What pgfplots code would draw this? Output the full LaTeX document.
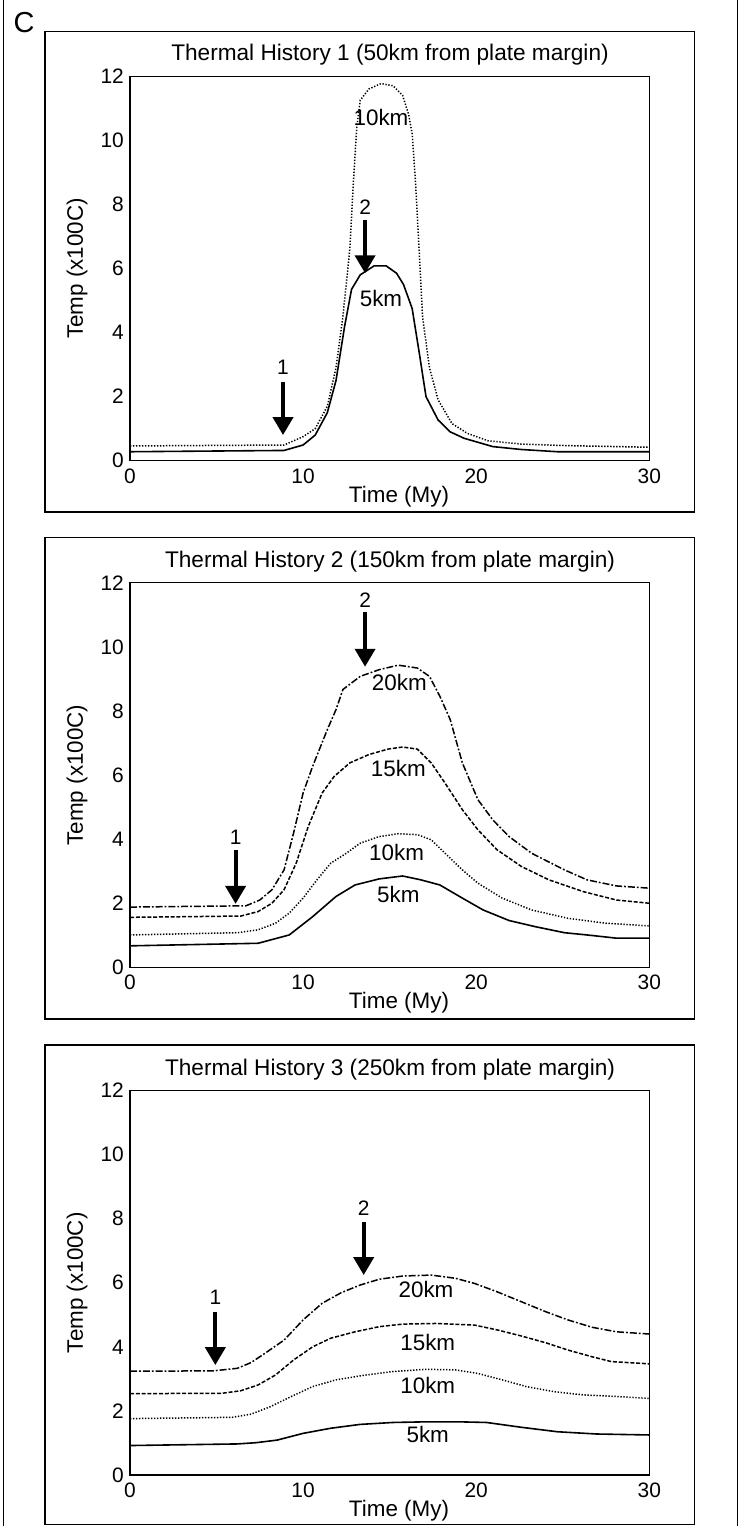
\documentclass[border=0pt]{standalone}
\usepackage{fontspec}
\setmainfont{Liberation Sans}
\usepackage{pgfplots}
\pgfplotsset{compat=1.18}
\usetikzlibrary{arrows.meta}
\newcommand\fs[1]{\fontsize{#1}{#1}\selectfont}
\pgfplotsset{
  th/.style={
    scale only axis, width=519.3bp, height=384.5bp,
    anchor=south west,
    xmin=0, xmax=30, ymin=0, ymax=12,
    xtick={0,10,20,30}, ytick={0,2,4,6,8,10,12},
    major tick length=0pt, tick style={draw=none},
    axis line style={line width=1.1bp},
    /pgf/number format/assume math mode=true,
    tick label style={font=\fs{21}},
    xticklabel style={anchor=base, inner sep=0pt, yshift=-22.3bp},
    yticklabel style={anchor=east, inner sep=0pt, xshift=-6bp},
    xlabel={Time (My)}, ylabel={Temp (x100C)},
    label style={font=\fs{22.5}},
    xlabel style={at={(axis description cs:0.518,-0.1074)}, anchor=base},
    ylabel style={at={(axis description cs:-0.1021,0.5)}, anchor=center},
    clip=false,
  },
  s5/.style={black, line width=1.6bp, solid},
  s10/.style={black, line width=1.5bp, dash pattern=on 1.3bp off 1.7bp},
  s15/.style={black, line width=1.5bp, dash pattern=on 4bp off 1.8bp},
  s20/.style={black, line width=1.5bp, dash pattern=on 7bp off 2bp on 1.8bp off 2bp},
}
\tikzset{
  arr/.style={line width=4bp, -{Triangle[length=18bp,width=20bp]}},
  lab/.style={font=\fs{22.5}, inner sep=0pt},
  num/.style={font=\fs{21}, inner sep=0pt},
}
\begin{document}
\begin{tikzpicture}
\path[use as bounding box] (0,0) rectangle (743bp,-1526bp);
% outer frame
\draw[line width=1bp] (3.3bp,0) -- (3.3bp,-1526bp);
\draw[line width=1bp] (737bp,0) -- (737bp,-1526bp);
\node[font=\fs{29}, inner sep=0pt] at (24bp,-23bp) {C};
% panel boxes
\draw[line width=1.1bp] (45bp,-31.7bp) rectangle (694.3bp,-512bp);
\draw[line width=1.1bp] (45bp,-537.7bp) rectangle (694.3bp,-1019bp);
\draw[line width=1.1bp] (45bp,-1045bp) rectangle (694.3bp,-1524.5bp);
% titles
\node[font=\fs{22.7}, anchor=base, inner sep=0pt] at (390bp,-60bp) {Thermal History 1 (50km from plate margin)};
\node[font=\fs{22.7}, anchor=base, inner sep=0pt] at (390bp,-567bp) {Thermal History 2 (150km from plate margin)};
\node[font=\fs{22.7}, anchor=base, inner sep=0pt] at (390bp,-1075bp) {Thermal History 3 (250km from plate margin)};

% ---------- Panel 1 ----------
\begin{axis}[th, at={(130bp,-460.7bp)}]
\addplot[s10] coordinates {(0,0.46) (8.9,0.49) (10.0,0.75) (10.7,1.0) (11.4,1.7) (11.9,2.9) (12.3,4.5) (12.7,6.6) (12.9,8.65) (13.1,10.4) (13.3,11.25) (13.8,11.6) (14.5,11.77) (15.2,11.7) (15.75,11.4) (16.1,10.8) (16.3,10.2) (16.5,8.65) (16.7,6.6) (16.9,4.5) (17.3,2.9) (17.8,1.9) (18.6,1.16) (19.5,0.85) (20.7,0.62) (22.6,0.52) (25.3,0.47) (30,0.42)};
\addplot[s5] coordinates {(0,0.28) (8.9,0.32) (10.0,0.49) (10.7,0.8) (11.4,1.5) (11.9,2.5) (12.4,4.2) (12.8,5.35) (13.3,5.8) (14.1,6.08) (14.8,6.08) (15.4,5.85) (15.8,5.5) (16.3,4.75) (16.7,3.4) (17.1,2.0) (17.8,1.27) (18.5,0.9) (19.3,0.7) (20.96,0.44) (22.6,0.35) (24.7,0.28) (30,0.28)};
\node[lab] at (axis cs:14.5,10.7) {10km};
\node[lab] at (axis cs:14.5,5.06) {5km};
\draw[arr] (axis cs:8.84,2.45) -- (axis cs:8.84,0.80);
\node[num] at (axis cs:8.84,2.9) {1};
\draw[arr] (axis cs:13.58,7.5) -- (axis cs:13.58,5.85);
\node[num] at (axis cs:13.58,7.92) {2};
\end{axis}

% ---------- Panel 2 ----------
\begin{axis}[th, at={(130bp,-967.3bp)}]
\addplot[s20] coordinates {(0,1.88) (6.7,1.92) (7.5,2.1) (8.2,2.42) (8.9,3.04) (9.45,4.19) (10.0,5.44) (10.55,6.27) (11.4,7.42) (11.9,8.04) (12.3,8.67) (13.3,9.08) (14.4,9.29) (15.5,9.43) (16.6,9.34) (17.3,9.08) (17.9,8.46) (18.5,7.73) (19.2,6.38) (20.1,5.23) (20.96,4.6) (21.9,4.08) (23.2,3.56) (25.1,3.04) (26.4,2.73) (28.1,2.54) (30,2.47)};
\addplot[s15] coordinates {(0,1.56) (6.4,1.6) (7.4,1.74) (8.2,2.0) (8.9,2.42) (9.6,3.25) (10.3,4.4) (11.1,5.44) (11.8,5.96) (12.7,6.38) (13.8,6.64) (14.9,6.81) (15.75,6.875) (16.6,6.81) (17.4,6.38) (18.2,5.75) (19.2,4.92) (20.1,4.29) (21.2,3.67) (22.6,3.15) (24.2,2.73) (26.2,2.36) (28.1,2.1) (30,2.0)};
\addplot[s10] coordinates {(0,1.01) (6.2,1.08) (7.4,1.17) (8.4,1.375) (9.2,1.69) (10.0,2.16) (10.8,2.73) (11.6,3.25) (12.5,3.56) (13.3,3.875) (14.4,4.08) (15.5,4.17) (16.6,4.14) (17.4,3.98) (18.2,3.56) (19.2,3.04) (20.1,2.625) (21.5,2.16) (23.2,1.79) (25.3,1.53) (27.5,1.375) (30,1.29)};
\addplot[s5] coordinates {(0,0.67) (7.4,0.75) (9.2,1.01) (10.55,1.58) (11.9,2.21) (13.0,2.57) (14.4,2.76) (15.75,2.85) (16.8,2.73) (17.9,2.57) (19.2,2.16) (20.4,1.79) (21.9,1.46) (23.4,1.27) (25.1,1.08) (26.4,1.01) (28.1,0.91) (30,0.91)};
\node[lab] at (axis cs:15.56,8.9) {20km};
\node[lab] at (axis cs:15.5,6.22) {15km};
\node[lab] at (axis cs:15.4,3.58) {10km};
\node[lab] at (axis cs:15.5,2.26) {5km};
\draw[arr] (axis cs:6.1,3.67) -- (axis cs:6.1,1.98);
\node[num] at (axis cs:6.1,4.06) {1};
\draw[arr] (axis cs:13.58,11.08) -- (axis cs:13.58,9.38);
\node[num] at (axis cs:13.58,11.46) {2};
\end{axis}

% ---------- Panel 3 ----------
\begin{axis}[th, at={(130bp,-1475bp)}]
\addplot[s20] coordinates {(0,3.24) (4.8,3.25) (6.2,3.33) (7.0,3.51) (7.8,3.8) (8.9,4.21) (10.0,4.84) (11.1,5.36) (12.2,5.69) (13.3,5.93) (14.4,6.11) (15.75,6.21) (17.4,6.24) (18.8,6.14) (19.9,5.98) (21.2,5.72) (22.6,5.41) (24.0,5.1) (25.3,4.84) (26.7,4.61) (28.1,4.47) (30,4.4)};
\addplot[s15] coordinates {(0,2.54) (5.3,2.55) (6.4,2.63) (7.4,2.81) (8.4,3.12) (9.45,3.59) (10.55,4.0) (11.6,4.27) (13.0,4.47) (14.4,4.63) (15.75,4.71) (17.7,4.73) (19.9,4.68) (21.2,4.53) (22.6,4.34) (24.0,4.13) (25.3,3.9) (26.7,3.69) (27.8,3.54) (30,3.47)};
\addplot[s10] coordinates {(0,1.76) (5.9,1.8) (7.0,1.9) (8.1,2.13) (9.2,2.42) (10.55,2.76) (11.9,2.97) (13.6,3.12) (15.2,3.23) (17.1,3.3) (18.8,3.28) (20.1,3.17) (21.5,2.97) (22.9,2.76) (24.5,2.6) (26.2,2.5) (28.1,2.45) (30,2.39)};
\addplot[s5] coordinates {(0,0.92) (6.2,0.97) (7.3,1.01) (8.5,1.09) (10.0,1.30) (11.6,1.46) (13.3,1.58) (15.2,1.64) (17.1,1.66) (19.0,1.66) (20.6,1.64) (22.6,1.49) (24.7,1.35) (26.96,1.28) (30,1.25)};
\node[lab] at (axis cs:17.1,5.8) {20km};
\node[lab] at (axis cs:17.2,4.13) {15km};
\node[lab] at (axis cs:17.2,2.78) {10km};
\node[lab] at (axis cs:17.2,1.25) {5km};
\draw[arr] (axis cs:4.93,5.1) -- (axis cs:4.93,3.43);
\node[num] at (axis cs:4.93,5.55) {1};
\draw[arr] (axis cs:13.5,7.9) -- (axis cs:13.5,6.24);
\node[num] at (axis cs:13.5,8.32) {2};
\end{axis}
\end{tikzpicture}
\end{document}
